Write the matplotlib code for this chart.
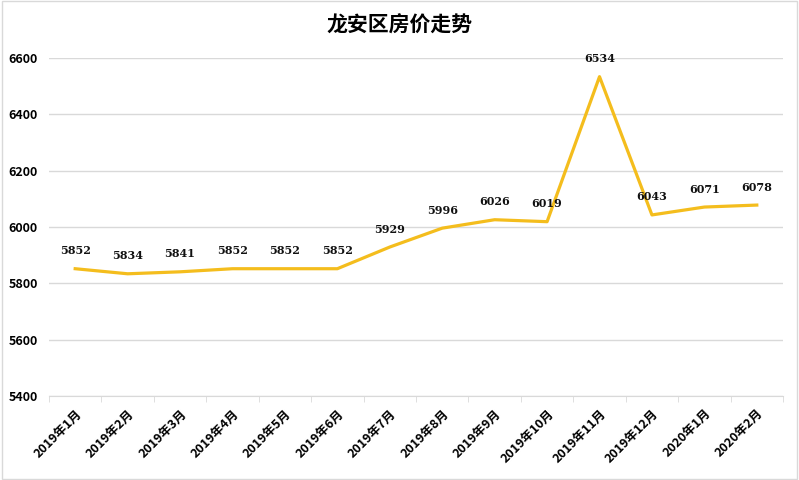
import numpy as np
import matplotlib.pyplot as plt

plt.rcParams['font.family'] = ['Noto Sans CJK SC', 'DejaVu Sans']

months = ['2019年1月', '2019年2月', '2019年3月', '2019年4月', '2019年5月', '2019年6月',
          '2019年7月', '2019年8月', '2019年9月', '2019年10月', '2019年11月', '2019年12月',
          '2020年1月', '2020年2月']
prices = [5852, 5834, 5841, 5852, 5852, 5852, 5929, 5996, 6026, 6019, 6534, 6043, 6071, 6078]
y_ticks = [5400, 5600, 5800, 6000, 6200, 6400, 6600]

fig = plt.figure(figsize=(7.99, 4.8), dpi=100)
ax = fig.add_axes([0.0613, 0.175, 0.9187, 0.704])

x = np.arange(len(months))
ax.plot(x, prices, color='#F4BD1D', linewidth=2.3, zorder=3)

for xi, v in zip(x, prices):
    ax.annotate(str(v), (xi, v), xytext=(0, 9), textcoords='offset points',
                ha='center', va='bottom', fontsize=8, fontweight='bold',
                family=['DejaVu Serif'], color='#111111')

ax.set_xlim(-0.5, len(months) - 0.5)
ax.set_ylim(5400, 6600)
ax.set_yticks(y_ticks)
ax.set_yticklabels([str(t) for t in y_ticks], fontsize=9, fontweight='bold')
ax.yaxis.grid(True, color='#d9d9d9', linewidth=1)
ax.set_axisbelow(True)
ax.tick_params(axis='y', length=0, pad=8)

ax.set_xticks(x)
ax.set_xticklabels(months, rotation=45, ha='right', rotation_mode='anchor',
                   fontsize=9, fontweight='bold')
ax.set_xticks(np.arange(-0.5, len(months)), minor=True)
ax.tick_params(axis='x', which='major', length=0, pad=8)
ax.tick_params(axis='x', which='minor', length=4, color='#d9d9d9')

for side in ['top', 'right', 'left']:
    ax.spines[side].set_visible(False)
ax.spines['bottom'].set_color('#d9d9d9')

fig.text(0.5, 0.948, '龙安区房价走势', ha='center', va='center',
         fontsize=15, fontweight='bold')

fig.patches.append(plt.Rectangle((0.002, 0.002), 0.996, 0.996, transform=fig.transFigure,
                                 fill=False, edgecolor='#d9d9d9', linewidth=1))

fig.savefig('out.png', dpi=100)
